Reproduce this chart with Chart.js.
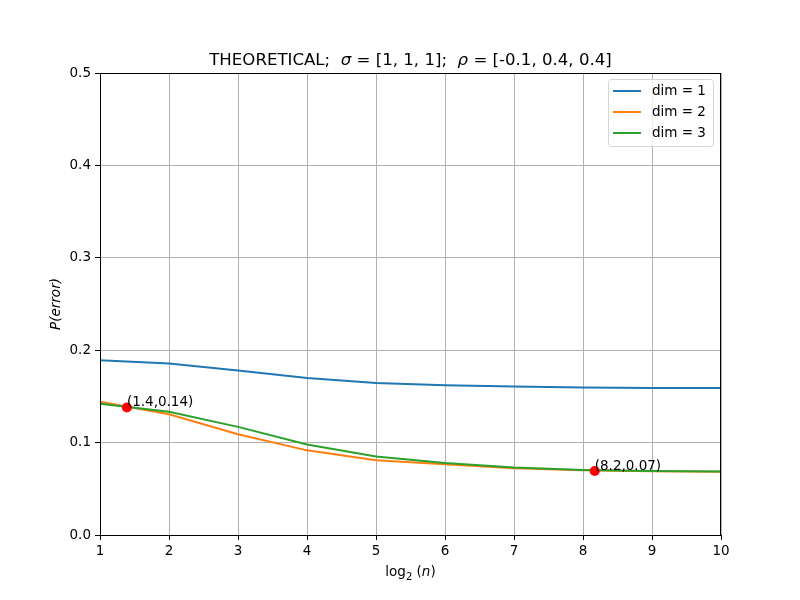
<!DOCTYPE html>
<html>
<head>
<meta charset="utf-8">
<script src="https://cdn.jsdelivr.net/npm/chart.js@4.4.1/dist/chart.umd.min.js"></script>
<style>
  html, body { margin: 0; padding: 0; background: #fff; }
  #wrap { width: 800px; height: 600px; }
</style>
</head>
<body>
<div id="wrap"><canvas id="chart"></canvas></div>
<script>
// log2(n) on the x axis
const logN = [1, 2, 3, 4, 5, 6, 7, 8, 9, 10];
const dim1 = [0.189, 0.1855, 0.178, 0.170, 0.1645, 0.162, 0.1607, 0.1597, 0.1592, 0.159];
const dim2 = [0.1443, 0.1306, 0.109, 0.0916, 0.081, 0.0765, 0.0722, 0.0702, 0.069, 0.0685];
const dim3 = [0.142, 0.1334, 0.117, 0.098, 0.085, 0.078, 0.073, 0.0703, 0.0692, 0.0686];
const seriesNames = ['dim = 1', 'dim = 2', 'dim = 3'];
const markX = [1.39, 8.17];
const markY = [0.138, 0.0693];
const markLabels = ['(1.4,0.14)', '(8.2,0.07)'];
const yTicks = [0, 0.1, 0.2, 0.3, 0.4, 0.5];

const FONT = 'DejaVu Sans';
const colors = ['#1f77b4', '#ff7f0e', '#2ca02c'];

function pts(ys) {
  return logN.map((x, i) => ({ x: x, y: ys[i] }));
}

// later series on top, like matplotlib
const lineSets = [dim1, dim2, dim3].map((ys, i) => ({
  label: seriesNames[i],
  data: pts(ys),
  borderColor: colors[i],
  backgroundColor: colors[i],
  borderWidth: 2,
  pointRadius: 0,
  tension: 0,
  fill: false,
  order: 3 - i
}));

const marks = {
  label: 'marks',
  type: 'scatter',
  data: markX.map((x, i) => ({ x: x, y: markY[i] })),
  backgroundColor: 'red',
  borderColor: 'red',
  borderWidth: 0,
  pointRadius: 5,
  pointHoverRadius: 5,
  order: 0
};

// title, axis titles, legend box, annotations, frame
const extras = {
  id: 'extras',
  afterDraw(chart) {
    const c = chart.ctx;
    const a = chart.chartArea;
    c.save();

    // frame
    c.strokeStyle = '#000';
    c.lineWidth = 1;
    c.strokeRect(a.left + 0.5, a.top + 0.5, a.right - a.left - 1, a.bottom - a.top);

    // title
    c.fillStyle = '#000';
    c.textBaseline = 'alphabetic';
    const parts = [
      ['THEORETICAL;  ', false], ['\u03c3', true], [' = [1, 1, 1];  ', false],
      ['\u03c1', true], [' = [-0.1, 0.4, 0.4]', false]
    ];
    let total = 0;
    parts.forEach(p => {
      c.font = (p[1] ? 'italic ' : '') + '16.6px "' + FONT + '"';
      total += c.measureText(p[0]).width;
    });
    let tx = (a.left + a.right) / 2 - total / 2;
    parts.forEach(p => {
      c.font = (p[1] ? 'italic ' : '') + '16.6px "' + FONT + '"';
      c.textAlign = 'left';
      c.fillText(p[0], tx, 65);
      tx += c.measureText(p[0]).width;
    });

    // x axis title: log2(n)
    const xParts = [['log', 0, false], ['2', 4, false], [' (', 0, false], ['n', 0, true], [')', 0, false]];
    let w = 0;
    xParts.forEach(p => {
      c.font = (p[2] ? 'italic ' : '') + (p[1] ? '10px' : '13.5px') + ' "' + FONT + '"';
      w += c.measureText(p[0]).width;
    });
    let xx = (a.left + a.right) / 2 - w / 2;
    xParts.forEach(p => {
      c.font = (p[2] ? 'italic ' : '') + (p[1] ? '10px' : '13.5px') + ' "' + FONT + '"';
      c.fillText(p[0], xx, 576 + p[1]);
      xx += c.measureText(p[0]).width;
    });

    // y axis title
    c.save();
    c.translate(60, (a.top + a.bottom) / 2);
    c.rotate(-Math.PI / 2);
    c.font = 'italic 13.5px "' + FONT + '"';
    c.textAlign = 'center';
    c.fillText('P(error)', 0, 0);
    c.restore();

    // annotations next to the red marks
    c.font = '13.5px "' + FONT + '"';
    c.textAlign = 'left';
    const xs = chart.scales.x, ys = chart.scales.y;
    markLabels.forEach((t, i) => {
      c.fillText(t, xs.getPixelForValue(markX[i]), ys.getPixelForValue(markY[i]) - 1);
    });

    // legend box, upper right
    const bx = 608, by = 79, bw = 105, bh = 67;
    c.fillStyle = 'rgba(255,255,255,0.8)';
    c.strokeStyle = '#d6d6d6';
    c.beginPath();
    c.roundRect(bx + 0.5, by + 0.5, bw, bh, 3);
    c.fill();
    c.stroke();
    seriesNames.forEach((name, i) => {
      const ly = by + 12 + i * 21;
      c.strokeStyle = colors[i];
      c.lineWidth = 2;
      c.beginPath();
      c.moveTo(bx + 5, ly);
      c.lineTo(bx + 33, ly);
      c.stroke();
      c.fillStyle = '#000';
      c.textBaseline = 'middle';
      c.fillText(name, bx + 44, ly);
    });
    c.restore();
  }
};

new Chart(document.getElementById('chart'), {
  type: 'line',
  data: { datasets: lineSets.concat([marks]) },
  options: {
    responsive: true,
    maintainAspectRatio: false,
    animation: false,
    layout: { padding: { top: 73, right: 79, left: 0, bottom: 0 } },
    plugins: {
      legend: { display: false },
      title: { display: false },
      tooltip: { enabled: false }
    },
    scales: {
      x: {
        type: 'linear',
        min: 1,
        max: 10,
        afterFit(s) { s.height = 65; },
        afterBuildTicks(s) { s.ticks = logN.map(v => ({ value: v })); },
        ticks: { color: '#000', font: { family: FONT, size: 13.5 }, padding: 3 },
        grid: { color: '#b0b0b0', tickColor: '#000', tickLength: 5 },
        border: { color: '#000' }
      },
      y: {
        min: 0,
        max: 0.5,
        afterFit(s) { s.width = 100; },
        afterBuildTicks(s) { s.ticks = yTicks.map(v => ({ value: v })); },
        ticks: {
          color: '#000',
          font: { family: FONT, size: 13.5 },
          padding: 4,
          callback: v => v.toFixed(1)
        },
        grid: { color: '#b0b0b0', tickColor: '#000', tickLength: 5 },
        border: { color: '#000' }
      }
    }
  },
  plugins: [extras]
});
</script>
</body>
</html>
